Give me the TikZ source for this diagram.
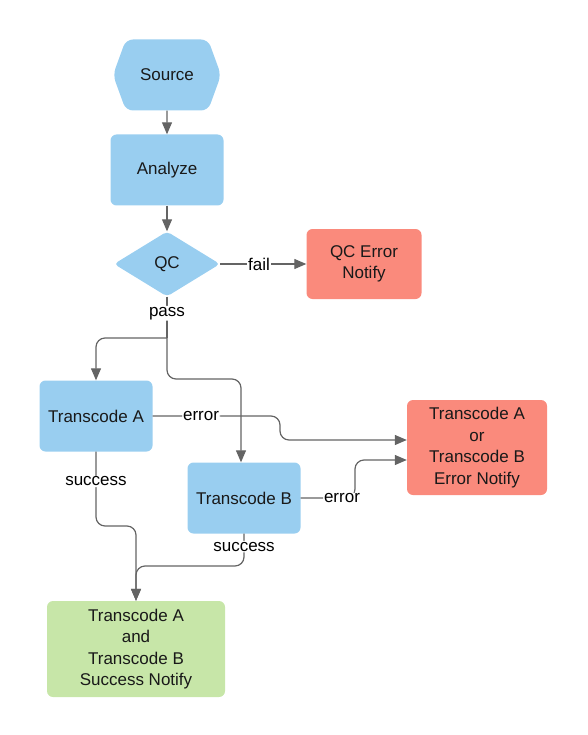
\documentclass[tikz,border=0pt]{standalone}
\usepackage{fontspec}
\setmainfont{Liberation Sans}
\usetikzlibrary{shapes.geometric,shapes.symbols,arrows.meta}
\definecolor{boxblue}{RGB}{153,206,240}
\definecolor{boxred}{RGB}{250,138,124}
\definecolor{boxgreen}{RGB}{199,230,168}
\definecolor{linegray}{RGB}{100,100,100}
\tikzstyle{box}=[rectangle,rounded corners=6pt,fill=boxblue,minimum width=113pt,minimum height=71pt,inner sep=0pt,align=center,text=black!90,font=\fontsize{17}{21.5}\selectfont]
\tikzstyle{hexbox}=[signal,signal to=east and west,signal pointer angle=140,rounded corners=7pt,fill=boxblue,minimum width=108pt,minimum height=71pt,inner sep=0pt,text=black!90,font=\fontsize{17}{21.5}\selectfont]
\tikzstyle{decision}=[diamond,rounded corners=4pt,fill=boxblue,minimum width=106pt,minimum height=65pt,inner sep=0pt,text=black!90,font=\fontsize{17}{21.5}\selectfont]
\tikzstyle{edge} = [draw,linegray,line width=1.2pt,rounded corners=9pt,-{Triangle[length=12pt,width=10pt]}]
\tikzstyle{plainedge} = [draw,linegray,line width=1.2pt,rounded corners=9pt]
\tikzstyle{weight} = [fill=white,inner sep=1pt,text=black,font=\fontsize{17}{21.5}\selectfont]

\begin{document}
\begin{tikzpicture}[x=1pt,y=-1pt]
    \useasboundingbox (0,0) rectangle (587,735);

    \node[hexbox] (src) at (167,75) {Source};
    \node[decision] (qc) at (167,264) {QC};

    \foreach \pos/ \name/ \txt in {{(167,170)/ana/Analyze},{(96,416)/ta/Transcode A},{(244,498)/tb/Transcode B}}
        \node[box] (\name) at \pos {\txt};

    \node[box,fill=boxred,minimum width=115pt,minimum height=70pt] (qcerr) at (364,264) {QC Error\\Notify};
    \node[box,fill=boxred,minimum width=140pt,minimum height=95pt] (taberr) at (477,447.5) {Transcode A\\or\\Transcode B\\Error Notify};
    \node[box,fill=boxgreen,minimum width=178pt,minimum height=96pt] (tabok) at (136,649) {Transcode A\\and\\Transcode B\\Success Notify};

    % bend points of the elbow connectors
    \coordinate (split) at (167,338);
    \coordinate (tobj) at (167,379);
    \coordinate (aerr) at (280,440);
    \coordinate (berr) at (355,460);
    \coordinate (aok) at (136,526);
    \coordinate (bok) at (136,566);

    % Connect vertices with edges and draw labels
    \path[edge] (src) -- (ana);
    \path[edge] (ana) -- (qc);
    \path[edge] (qc) -- node[weight,pos=0.45] {fail} (qcerr);
    \path[plainedge] (qc.south) -- node[weight,pos=0.4] {pass} (split);
    \path[edge] (split) -| (ta.north);
    \path[edge] (split) -- (tobj) -| ([xshift=-3pt]tb.north);
    \path[edge] (ta.east) -| node[weight,pos=0.19] {error} (aerr) -- (aerr -| taberr.west);
    \path[edge] (tb.east) -| node[weight,pos=0.38] {error} (berr) -- (berr -| taberr.west);
    \path[edge] (ta.south) |- node[weight,pos=0.2] {success} (aok) -- (tabok.north);
    \path[edge] (tb.south) |- node[weight,pos=0.2] {success} (bok) -- (tabok.north);

\end{tikzpicture}
\end{document}
